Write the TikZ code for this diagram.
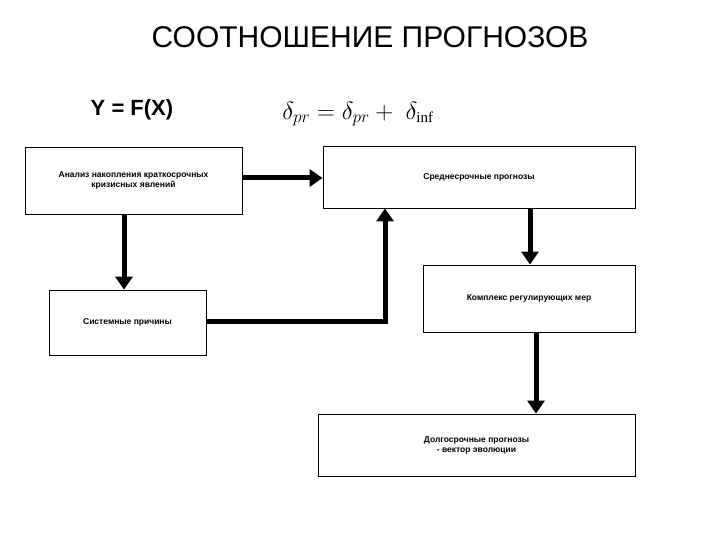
\documentclass[tikz,border=0pt]{standalone}
\usepackage{fontspec}
\setmainfont{Liberation Sans}
\newfontfamily\serifit{Liberation Serif}
\usetikzlibrary{arrows.meta}
\begin{document}
\begin{tikzpicture}[x=1pt,y=-1pt,
  box/.style={draw,line width=0.8pt,fill=white,inner sep=0pt,font=\fontsize{8.5}{10}\selectfont\bfseries,align=center},
  conn/.style={line width=5pt,-{Triangle[length=13pt,width=17pt]}}]
\useasboundingbox[fill=white] (0,0) rectangle (720,540);
\node (title) at (370,37) {\fontsize{30}{34}\selectfont СООТНОШЕНИЕ ПРОГНОЗОВ};
\node (yfx) at (132,110) {\fontsize{22}{26}\selectfont\bfseries Y = F(X)};
\node (form) at (358,114) {\fontsize{26}{30}\selectfont $\delta_{pr}=\delta_{pr}+\;\delta_{\hbox{\serifit\fontsize{15}{18}\selectfont inf}}$};
\node[box,minimum width=217,minimum height=67] (A) at (133.5,180.5) {Анализ накопления краткосрочных\\кризисных явлений};
\node[box,minimum width=312,minimum height=62] (B) at (479,177) {Среднесрочные прогнозы};
\node[box,minimum width=157,minimum height=65] (C) at (127.5,322.5) {Системные причины};
\node[box,minimum width=212,minimum height=67] (D) at (529,298.5) {Комплекс регулирующих мер};
\node[box,minimum width=317,minimum height=62] (E) at (476.5,445) {Долгосрочные прогнозы\\- вектор эволюции};
\draw[conn] (A.east |- 0,178) -- (B.west |- 0,178);
\draw[conn] (A.south -| 124,0) -- (C.north -| 124,0);
\draw[conn] (C.east |- 0,321) -| (B.south -| 385,0);
\draw[conn] (B.south -| 530,0) -- (D.north -| 530,0);
\draw[conn] (D.south -| 536,0) -- (E.north -| 536,0);
\end{tikzpicture}
\end{document}
